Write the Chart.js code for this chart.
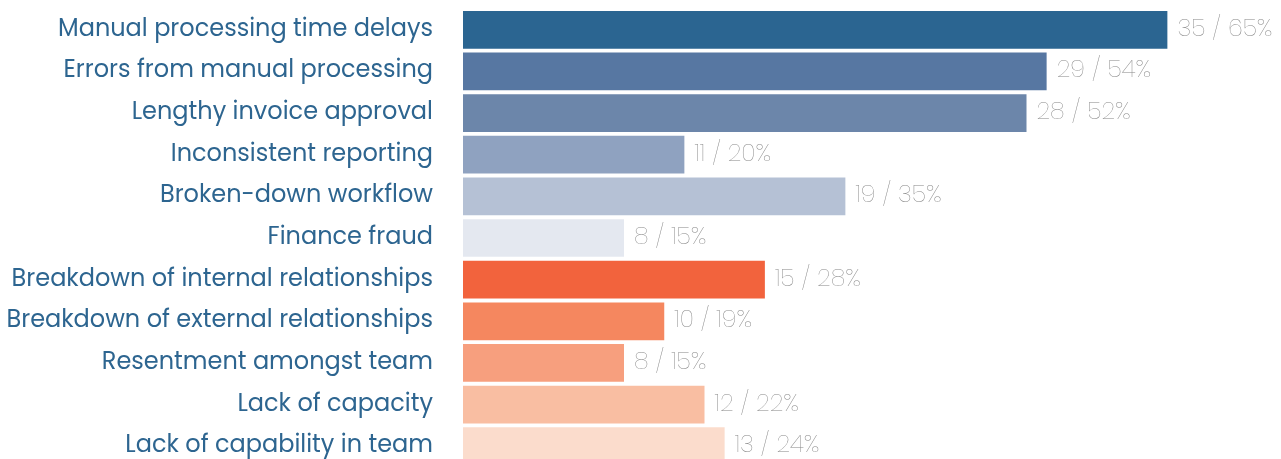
<!DOCTYPE html>
<html>
<head>
<meta charset="utf-8">
<script src="https://cdn.jsdelivr.net/npm/chart.js@4"></script>
<style>
  html, body { margin: 0; padding: 0; background: #ffffff; overflow: hidden; }
  #wrap { position: relative; width: 1281px; height: 468px; }
</style>
</head>
<body>
<div id="wrap"><canvas id="c"></canvas></div>
<script>
const categories = [
  "Manual processing time delays",
  "Errors from manual processing",
  "Lengthy invoice approval",
  "Inconsistent reporting",
  "Broken-down workflow",
  "Finance fraud",
  "Breakdown of internal relationships",
  "Breakdown of external relationships",
  "Resentment amongst team",
  "Lack of capacity",
  "Lack of capability in team"
];
const counts = [35, 29, 28, 11, 19, 8, 15, 10, 8, 12, 13];
const percents = [65, 54, 52, 20, 35, 15, 28, 19, 15, 22, 24];
const barColors = [
  "#2b6591", "#5777a2", "#6c86aa", "#8fa2c0", "#b5c1d5", "#e4e8f0",
  "#f2633d", "#f5875f", "#f79f7e", "#f9bea2", "#fbdccc"
];

const valueLabels = {
  id: 'valueLabels',
  afterDatasetsDraw(chart) {
    const ctx = chart.ctx;
    const meta = chart.getDatasetMeta(0);
    ctx.save();
    ctx.font = '200 24px "Poppins", "Open Sans", sans-serif';
    ctx.fillStyle = '#878787';
    ctx.textAlign = 'left';
    ctx.textBaseline = 'middle';
    meta.data.forEach((bar, i) => {
      ctx.fillText(counts[i] + ' / ' + percents[i] + '%', bar.x + 10, bar.y);
    });
    ctx.restore();
  }
};

new Chart(document.getElementById('c'), {
  type: 'bar',
  data: {
    labels: categories,
    datasets: [{
      data: counts,
      backgroundColor: barColors,
      borderWidth: 0,
      barPercentage: 0.906,
      categoryPercentage: 1.0
    }]
  },
  options: {
    indexAxis: 'y',
    responsive: true,
    maintainAspectRatio: false,
    animation: false,
    layout: { padding: { top: 9, right: 13, bottom: 1, left: 0 } },
    plugins: { legend: { display: false }, tooltip: { enabled: false } },
    scales: {
      x: { display: false, min: 0, max: 40 },
      y: {
        grid: { display: false, drawTicks: false },
        border: { display: false },
        ticks: {
          color: '#2d6590',
          font: { family: '"Poppins", "Open Sans", sans-serif', size: 24 },
          padding: 30
        },
        afterFit(scale) {
          scale.width = 463;
          scale.paddingTop = 0;
          scale.paddingBottom = 0;
        }
      }
    }
  },
  plugins: [valueLabels]
});
</script>
</body>
</html>
